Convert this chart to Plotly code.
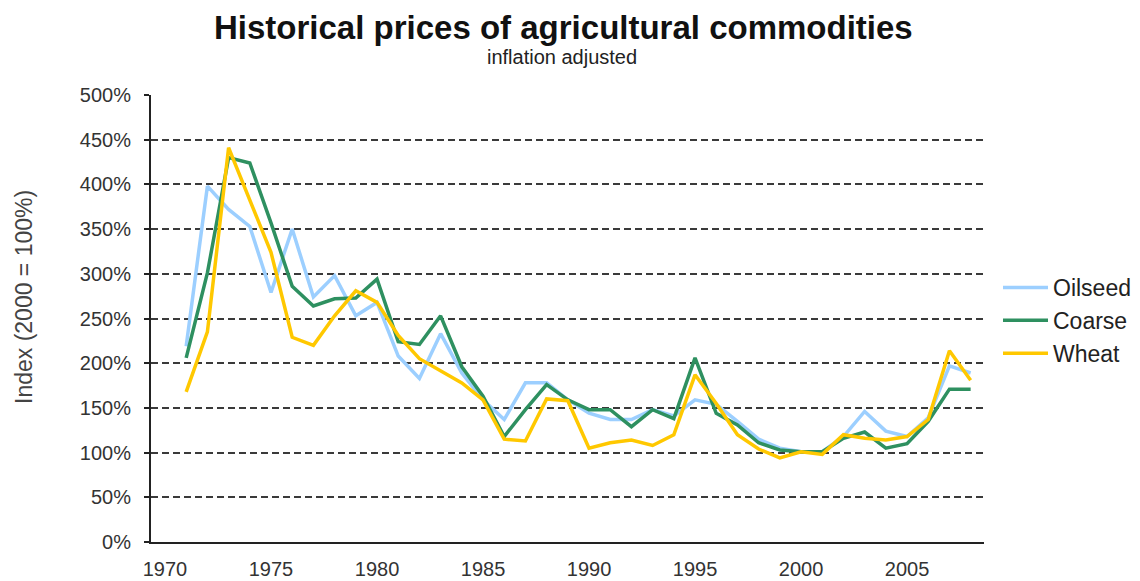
import plotly.graph_objects as go

years = list(range(1971, 2009))
oilseed = [219, 398, 372, 353, 279, 350, 274, 298, 253, 268,
           208, 183, 233, 189, 159, 137, 178, 178, 159, 144,
           137, 137, 148, 141, 159, 154, 135, 115, 105, 101,
           101, 118, 146, 124, 118, 139, 197, 189]
coarse = [206, 301, 430, 424, 357, 286, 264, 272, 273, 294,
          224, 221, 253, 196, 163, 118, 148, 176, 159, 148,
          148, 129, 148, 138, 206, 144, 131, 111, 103, 101,
          101, 116, 123, 105, 110, 135, 171, 171]
wheat = [168, 235, 441, 383, 324, 229, 220, 253, 281, 268,
         231, 205, 191, 178, 159, 115, 113, 160, 158, 105,
         111, 114, 108, 120, 187, 155, 120, 104, 94, 101,
         98, 120, 116, 114, 118, 137, 214, 181]

series_names = ["Oilseed", "Coarse", "Wheat"]
series_colors = ["#9ccfff", "#2e9060", "#ffc800"]
x_ticks = [1970, 1975, 1980, 1985, 1990, 1995, 2000, 2005]
y_ticks = [0, 50, 100, 150, 200, 250, 300, 350, 400, 450, 500]

FONT = "Liberation Sans, Arial, sans-serif"

# page body has an 8px margin: the figure starts at (8, 8) in the window
W, H = 1132, 573
OFF = 8

fig = go.Figure()
for name, vals, col in zip(series_names, [oilseed, coarse, wheat], series_colors):
    fig.add_trace(go.Scatter(
        x=years, y=vals, name=name, mode="lines",
        line=dict(color=col, width=3.5),
    ))

PL, PR, PT, PB = 151 - OFF, 984 - OFF, 95 - OFF, 542 - OFF
PW, PH = PR - PL, PB - PT


def px_x(x):
    return (x - 151) / PW


def px_y(y):
    return (542 - y) / PH


fig.update_layout(
    width=W, height=H,
    margin=dict(l=PL, r=W - PR, t=PT, b=H - PB, autoexpand=False),
    paper_bgcolor="white", plot_bgcolor="white",
    font=dict(family=FONT, color="#222"),
    showlegend=True,
    legend=dict(
        x=px_x(998), xanchor="left", y=px_y(266), yanchor="top",
        font=dict(size=23, color="#222", family=FONT),
        bgcolor="rgba(0,0,0,0)", tracegroupgap=0,
        itemwidth=45,
    ),
)

fig.update_xaxes(
    range=[1969.34, 2008.63], automargin=False,
    tickmode="array", tickvals=x_ticks, ticktext=[str(v) for v in x_ticks],
    showgrid=False, zeroline=False,
    showline=True, linecolor="#222", linewidth=2,
    ticks="", ticklabelstandoff=8,
    tickfont=dict(size=20, color="#333", family=FONT),
)
fig.update_yaxes(
    range=[0, 500], automargin=False,
    tickmode="array", tickvals=y_ticks, ticktext=[f"{v}%" for v in y_ticks],
    showgrid=True, gridcolor="#3a3a3a", gridwidth=1.8, griddash="7px,4px",
    zeroline=False,
    showline=True, linecolor="#222", linewidth=2,
    ticks="outside", ticklen=5, tickcolor="#222", tickwidth=1.5,
    ticklabelstandoff=9,
    tickfont=dict(size=20, color="#333", family=FONT),
)

fig.add_annotation(
    text="<b>Historical prices of agricultural commodities</b>",
    xref="paper", yref="paper", x=px_x(563), y=px_y(28),
    xanchor="center", yanchor="middle", showarrow=False,
    font=dict(size=33, color="#111", family=FONT),
)
fig.add_annotation(
    text="inflation adjusted", xref="paper", yref="paper",
    x=px_x(562), y=px_y(57),
    xanchor="center", yanchor="middle", showarrow=False,
    font=dict(size=20, color="#222", family=FONT),
)
fig.add_annotation(
    text="Index (2000 = 100%)", xref="paper", yref="paper",
    x=px_x(24), y=px_y(297),
    xanchor="center", yanchor="middle", textangle=-90, showarrow=False,
    font=dict(size=23, color="#444", family=FONT),
)

fig.write_html("out.html")
